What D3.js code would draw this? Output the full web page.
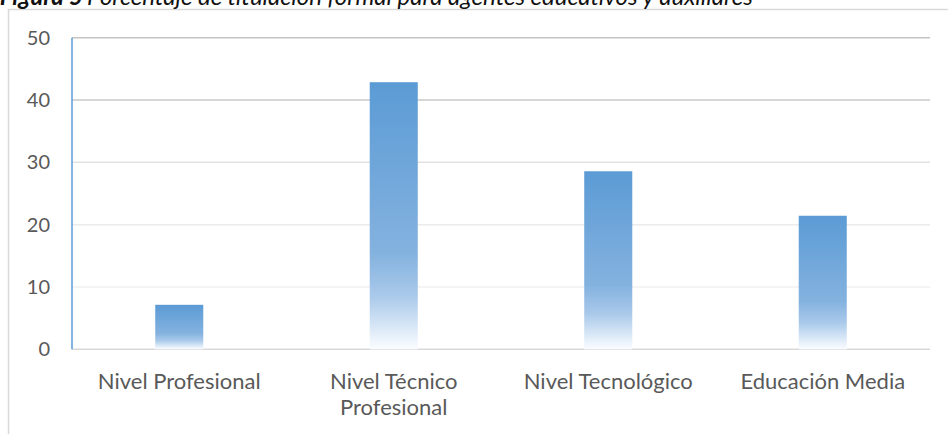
<!DOCTYPE html>
<html lang="es">
<head>
<meta charset="utf-8">
<title>Figura 5 Porcentaje de titulación formal</title>
<script src="https://cdn.jsdelivr.net/npm/d3@7"></script>
<style>
  html, body { margin: 0; padding: 0; background: #ffffff; }
  svg { display: block; font-family: Lato, "Open Sans", sans-serif; }
</style>
</head>
<body>
<svg id="chart" width="948" height="434"></svg>
<script>
// Chart data
const titleLead = "Figura 5";
const titleText = "Porcentaje de titulación formal para agentes educativos y auxiliares";
const categories = ["Nivel Profesional", "Nivel Técnico\nProfesional", "Nivel Tecnológico", "Educación Media"];
const values = [7.14, 42.86, 28.57, 21.43];
const yTicks = [0, 10, 20, 30, 40, 50];

const W = 948, H = 434;
const margin = { left: 72, right: 18, top: 37.7, bottom: 84.7 };
const svg = d3.select("#chart");

// Gradient fill for the bars
const defs = svg.append("defs");
const grad = defs.append("linearGradient")
  .attr("id", "barFill").attr("x1", 0).attr("y1", 0).attr("x2", 0).attr("y2", 1);
grad.append("stop").attr("offset", "0%").attr("stop-color", "#5b9bd5");
grad.append("stop").attr("offset", "64%").attr("stop-color", "#84b2df");
grad.append("stop").attr("offset", "80%").attr("stop-color", "#a9c9ea");
grad.append("stop").attr("offset", "100%").attr("stop-color", "#fbfdff");

// Outer frame (top and left edges)
svg.append("path")
  .attr("d", `M8.5,${H} V9.5 H${W}`)
  .attr("fill", "none").attr("stroke", "#d9d9d9").attr("stroke-width", 1.5);

// Caption above the frame, running past the top edge
const cap = svg.append("g").attr("font-size", 24).attr("font-style", "italic").attr("fill", "#111");
cap.append("text").attr("x", 83).attr("y", 4.5).attr("text-anchor", "end")
  .attr("font-weight", "bold").text(titleLead);
cap.append("text").attr("x", 87).attr("y", 4.5).text(titleText);

const x = d3.scaleBand().domain(categories)
  .range([margin.left, W - margin.right]).paddingInner(0.776).paddingOuter(0.388);
const y = d3.scaleLinear().domain([0, 50]).range([H - margin.bottom, margin.top]);

// Horizontal gridlines
const gridColor = d => ({ 50: "#c4c4c4", 40: "#c8c8c8", 30: "#e2e2e2", 20: "#ebebeb", 10: "#f0f0f0", 0: "#d9d9d9" })[d];
svg.append("g").selectAll("line").data(yTicks).join("line")
  .attr("x1", margin.left).attr("x2", W - margin.right)
  .attr("y1", d => y(d)).attr("y2", d => y(d))
  .attr("stroke", gridColor).attr("stroke-width", 1.5);

// Y axis labels
const yAxis = d3.axisLeft(y).tickValues(yTicks).tickSize(0).tickPadding(22).tickFormat(d3.format("d"));
const yg = svg.append("g").attr("transform", `translate(${margin.left},0)`).call(yAxis);
yg.select(".domain").remove();
yg.selectAll("text").attr("font-size", 20).attr("fill", "#595959")
  .attr("font-family", "Lato, 'Open Sans', sans-serif");

// Bars
svg.append("g").selectAll("rect").data(values).join("rect")
  .attr("x", (d, i) => x(categories[i]))
  .attr("width", x.bandwidth())
  .attr("y", d => y(d))
  .attr("height", d => y(0) - y(d))
  .attr("fill", "url(#barFill)");

// Vertical value axis line
svg.append("line")
  .attr("x1", margin.left).attr("x2", margin.left)
  .attr("y1", y(50)).attr("y2", y(0))
  .attr("stroke", "#5b9bd5").attr("stroke-width", 1.5);

// Category labels
const xl = svg.append("g").selectAll("text").data(categories).join("text")
  .attr("text-anchor", "middle")
  .attr("font-size", 22).attr("fill", "#595959")
  .attr("transform", d => `translate(${x(d) + x.bandwidth() / 2},388.5)`);
xl.selectAll("tspan").data(d => d.split("\n")).join("tspan")
  .attr("x", 0).attr("dy", (d, i) => i === 0 ? 0 : 26.5)
  .text(d => d);
</script>
</body>
</html>
